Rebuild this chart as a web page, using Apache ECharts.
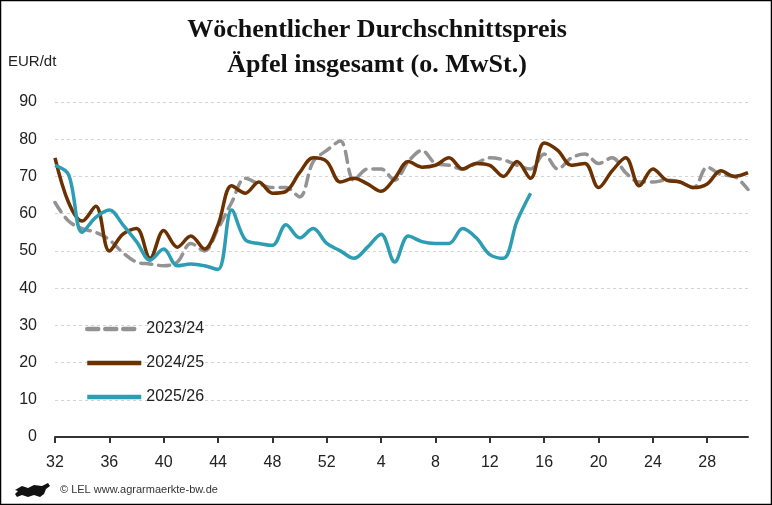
<!DOCTYPE html>
<html>
<head>
<meta charset="utf-8">
<script src="https://cdn.jsdelivr.net/npm/echarts@6/dist/echarts.min.js"></script>
<style>
html,body{margin:0;padding:0;background:#fff;}
#c{width:772px;height:505px;}
</style>
</head>
<body>
<div id="c"></div>
<script>
const weeks = ['32','33','34','35','36','37','38','39','40','41','42','43','44','45','46','47','48','49','50','51','52',
  '1','2','3','4','5','6','7','8','9','10','11','12','13','14','15','16','17','18','19','20','21','22','23','24','25','26','27','28','29','30','31'];
const yTicks = [0,10,20,30,40,50,60,70,80,90];
const s2324 = [63,58,56,55,53,49.5,47,46.5,46,47,52,50,56,63,69.5,68,67,67,64.5,74,77,79.5,69,72,72,69,74,77,73.5,73,72,73.5,75,74.5,73,72,76,72,75,76,73.5,75,71,68.5,68.5,69,68.5,67,72.5,70.5,70,66.5];
const s2425 = [75,63,58,62,50,54.5,56,48,55.5,51,54,50.5,57,67.5,65.5,68.5,65.5,66,71,75,74,68.5,69.5,68,66,69.5,74,72.5,73,75,72,73.5,73,70,74,69.5,79,77,73,73.5,67,71.5,75,67.5,72,69,68.5,67,68,71.5,70,71];
const s2526 = [73,70.5,55,59,61,57,52.5,47.5,50.5,46,46.5,46,45,61,53,52,51.5,57,53.5,56,52,50,48,51,54.5,47,54,52.5,52,52,56,53.5,49,48,58,65.5];
const seriesNames = ['2023/24','2024/25','2025/26'];
const titleLines = ['Wöchentlicher Durchschnittspreis','Äpfel insgesamt (o. MwSt.)'];
const unitLabel = 'EUR/dt';
const footer = '© LEL www.agrarmaerkte-bw.de';

const chart = echarts.init(document.getElementById('c'));
const sans = '"Liberation Sans", Arial, sans-serif';
chart.setOption({
  animation:false,
  backgroundColor:'#fff',
  title:{
    text: titleLines.join('\n'),
    left: 372, top: 8, textAlign:'center',
    textStyle:{fontFamily:'"Liberation Serif", serif', fontWeight:'bold', fontSize:26, lineHeight:35, color:'#111'}
  },
  grid:{left:55, right:24, top:102, bottom:68},
  legend:{
    orient:'vertical', left:80, top:316, itemWidth:54, itemHeight:14, itemGap:18,
    itemStyle:{color:'rgba(0,0,0,0)', borderWidth:0, opacity:0},
    lineStyle:{width:4.5},
    textStyle:{fontFamily:sans, fontSize:16, color:'#222'},
    data: seriesNames
  },
  xAxis:{
    type:'category', data:weeks, boundaryGap:false,
    axisLine:{lineStyle:{color:'#333', width:2}},
    axisTick:{show:true, interval:3, length:6, lineStyle:{color:'#333', width:2}},
    axisLabel:{interval:3, margin:18, fontFamily:sans, fontSize:16, color:'#222'},
    splitLine:{show:false}
  },
  yAxis:{
    type:'value', min:yTicks[0], max:yTicks[yTicks.length-1], interval:10,
    axisLine:{show:false}, axisTick:{show:false},
    axisLabel:{margin:18, fontFamily:sans, fontSize:16, color:'#222'},
    splitLine:{lineStyle:{color:'#d4d4d4', type:[3,3], width:1}}
  },
  series:[
    {name:seriesNames[0], type:'line', data:s2324, smooth:0.35, symbol:'none',
     lineStyle:{color:'#939393', width:3.5, type:[11,7], cap:'round'}, itemStyle:{color:'#939393'}},
    {name:seriesNames[1], type:'line', data:s2425, smooth:0.35, symbol:'none',
     lineStyle:{color:'#6b3100', width:3.5}, itemStyle:{color:'#6b3100'}},
    {name:seriesNames[2], type:'line', data:s2526, smooth:0.35, symbol:'none',
     lineStyle:{color:'#2c9db2', width:3.5}, itemStyle:{color:'#2c9db2'}}
  ],
  graphic:[
    {type:'rect', shape:{x:0.5,y:0.5,width:771,height:504}, style:{fill:null, stroke:'#000', lineWidth:1.5}, silent:true},
    {type:'text', left:8, top:54, style:{text:unitLabel, font:'15px '+sans, fill:'#222'}},
    {type:'text', left:60, top:484, style:{text:footer, font:'11px '+sans, fill:'#333'}},
    {type:'polygon', shape:{points:[[15,490],[22,486],[28,488],[34,485],[42,486],[48,483],[50,486],[46,489],[44,494],[40,497],[34,495],[28,497],[22,495],[17,497],[15,494],[18,491]]}, style:{fill:'#111'}}
  ]
});
</script>
</body>
</html>
